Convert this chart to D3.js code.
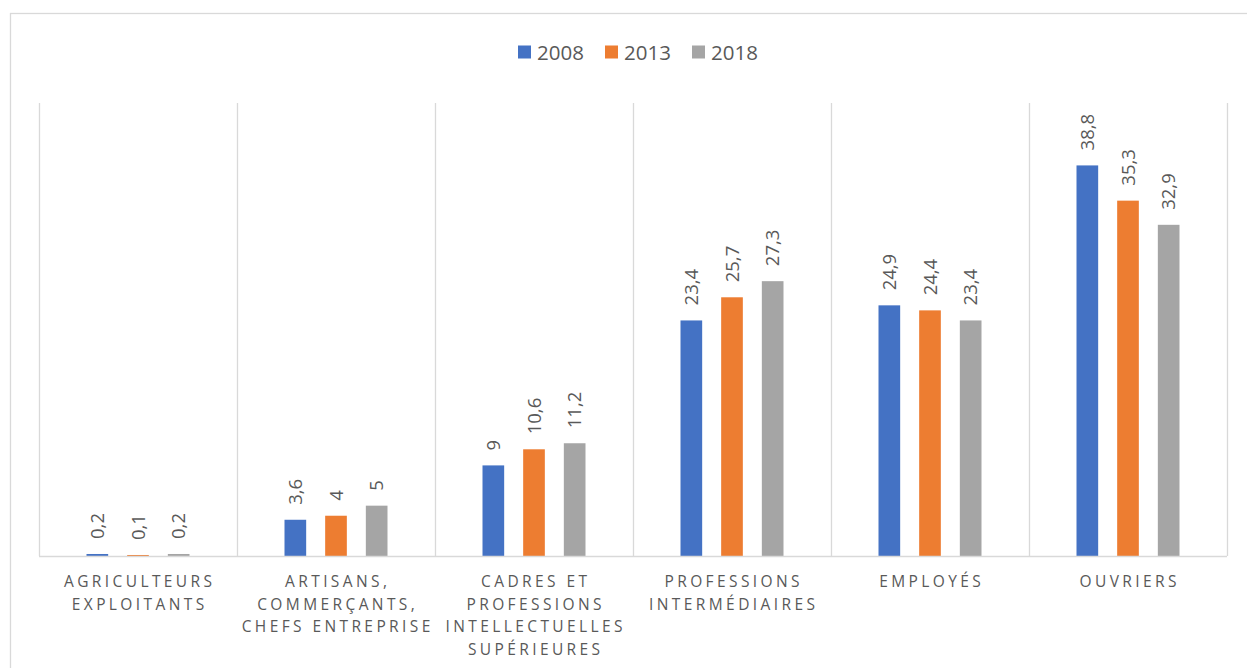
<!DOCTYPE html>
<html>
<head>
<meta charset="utf-8">
<script src="https://cdn.jsdelivr.net/npm/d3@7"></script>
<style>
  html, body { margin: 0; padding: 0; background: #fff; }
  svg { display: block; }
  text { font-family: "Open Sans", "Noto Sans", sans-serif; fill: #595959; }
</style>
</head>
<body>
<svg id="chart" width="1247" height="668"></svg>
<script>
// ---- data ----
const categories = [
  "AGRICULTEURS EXPLOITANTS",
  "ARTISANS, COMMERÇANTS, CHEFS ENTREPRISE",
  "CADRES ET PROFESSIONS INTELLECTUELLES SUPÉRIEURES",
  "PROFESSIONS INTERMÉDIAIRES",
  "EMPLOYÉS",
  "OUVRIERS"
];
const categoryLines = [
  ["AGRICULTEURS", "EXPLOITANTS"],
  ["ARTISANS,", "COMMERÇANTS,", "CHEFS ENTREPRISE"],
  ["CADRES ET", "PROFESSIONS", "INTELLECTUELLES", "SUPÉRIEURES"],
  ["PROFESSIONS", "INTERMÉDIAIRES"],
  ["EMPLOYÉS"],
  ["OUVRIERS"]
];
const years = ["2008", "2013", "2018"];
const values2008 = [0.2, 3.6, 9, 23.4, 24.9, 38.8];
const values2013 = [0.1, 4, 10.6, 25.7, 24.4, 35.3];
const values2018 = [0.2, 5, 11.2, 27.3, 23.4, 32.9];
const seriesValues = [values2008, values2013, values2018];
const colors = ["#4472C4", "#ED7D31", "#A5A5A5"];

// ---- layout ----
const svg = d3.select("#chart");
const plot = { left: 39, right: 1227, top: 103, bottom: 556 };

// chart border
svg.append("rect")
  .attr("x", 10.5).attr("y", 13.5)
  .attr("width", 1260).attr("height", 700)
  .attr("fill", "none").attr("stroke", "#d9d9d9").attr("stroke-width", 1.3);

const x0 = d3.scaleBand().domain(categories).range([plot.left, plot.right]).padding(0);
const y = d3.scaleLinear().domain([0, 45]).range([plot.bottom, plot.top]);
const x1 = d3.scaleBand().domain(years)
  .range([-51.5, 51.5]).paddingInner(0.467).paddingOuter(0);

// vertical gridlines at category boundaries
const bounds = categories.map(c => x0(c)).concat([x0(categories[categories.length - 1]) + x0.bandwidth()]);
svg.append("g").selectAll("line").data(bounds).join("line")
  .attr("x1", d => Math.round(d) + 0.5).attr("x2", d => Math.round(d) + 0.5)
  .attr("y1", plot.top).attr("y2", plot.bottom)
  .attr("stroke", "#d9d9d9").attr("stroke-width", 1.3);

// bars
const rows = [];
categories.forEach((c, i) => {
  years.forEach((yr, j) => rows.push({ cat: c, year: yr, j, v: seriesValues[j][i] }));
});
const cx = c => x0(c) + x0.bandwidth() / 2;

svg.append("g").selectAll("rect").data(rows).join("rect")
  .attr("x", d => cx(d.cat) + x1(d.year))
  .attr("width", x1.bandwidth())
  .attr("y", d => y(d.v))
  .attr("height", d => y(0) - y(d.v))
  .attr("fill", d => colors[d.j]);

// axis baseline
svg.append("line")
  .attr("x1", plot.left).attr("x2", plot.right)
  .attr("y1", plot.bottom + 0.5).attr("y2", plot.bottom + 0.5)
  .attr("stroke", "#d9d9d9").attr("stroke-width", 1.3);

// data labels (rotated)
const fmt = v => String(v).replace(".", ",");
svg.append("g").selectAll("text").data(rows).join("text")
  .attr("transform", d => `translate(${cx(d.cat) + x1(d.year) + x1.bandwidth() / 2},${y(d.v) - 15}) rotate(-90)`)
  .attr("dy", "0.36em")
  .attr("text-anchor", "start")
  .style("font-size", "18.5px")
  .text(d => fmt(d.v));

// category labels
const catG = svg.append("g").selectAll("text").data(categories).join("text")
  .attr("text-anchor", "middle")
  .style("font-size", "15.5px")
  .style("letter-spacing", "3.4px");
catG.each(function (c, i) {
  const t = d3.select(this);
  categoryLines[i].forEach((line, k) => {
    t.append("tspan")
      .attr("x", cx(c) + 1.7)
      .attr("y", 587 + k * 22.5)
      .text(line);
  });
});

// legend
const legendX = d3.scalePoint().domain(years).range([518, 692]);
const lg = svg.append("g").selectAll("g").data(years).join("g")
  .attr("transform", d => `translate(${legendX(d)},0)`);
lg.append("rect")
  .attr("x", 0).attr("y", 45.5).attr("width", 13).attr("height", 13)
  .attr("fill", (d, i) => colors[i]);
lg.append("text")
  .attr("x", 19).attr("y", 59.5)
  .style("font-size", "20.5px")
  .text(d => d);
</script>
</body>
</html>
